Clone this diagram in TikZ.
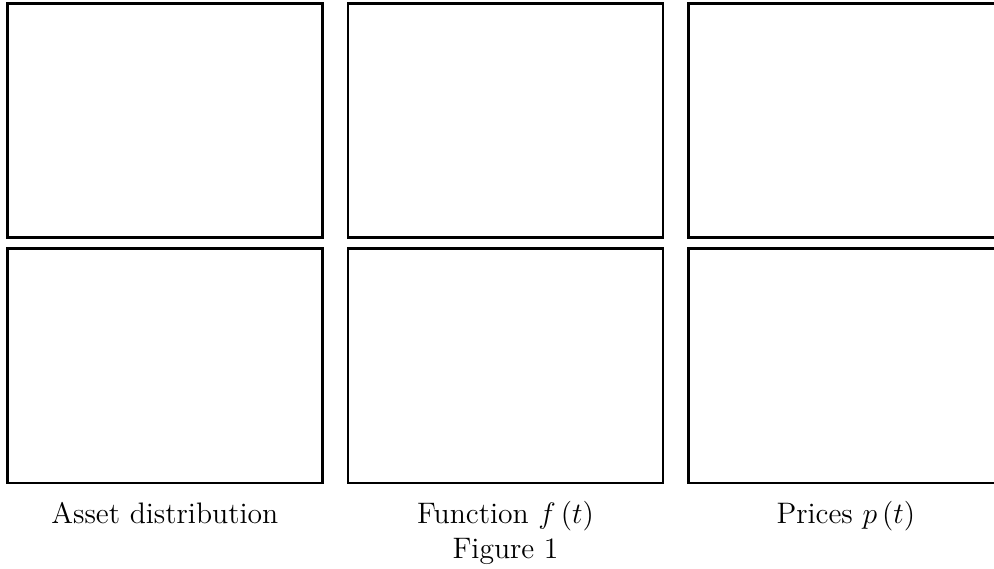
\documentclass[tikz,border=0pt]{standalone}
\begin{document}
\begin{tikzpicture}[x=0.405pt,y=-0.405pt]
\tikzset{panel/.style={draw=black,line width=1pt,minimum width=127.6pt,minimum height=94.8pt,inner sep=0pt,outer sep=0pt},
caption/.style={anchor=base,inner sep=0pt,font=\fontsize{12}{14.5}\selectfont}}
\clip (0,0) rectangle (994,569);
% top row
\node[panel] (p11) at (164.8,120.6) {};
\node[panel] (p12) at (505.5,120.6) {};
\node[panel] (p13) at (845.8,120.6) {};
% bottom row
\node[panel] (p21) at (164.8,365.7) {};
\node[panel] (p22) at (505.5,365.7) {};
\node[panel] (p23) at (845.8,365.7) {};
% labels
\node[caption] (c1) at (164.8,523) {Asset distribution};
\node[caption] (c2) at (505.5,523) {Function $f\left(t\right)$};
\node[caption] (c3) at (845.8,523) {Prices $p\left(t\right)$};
\node[caption] (fig) at (505.5,558) {Figure 1};
\end{tikzpicture}
\end{document}
